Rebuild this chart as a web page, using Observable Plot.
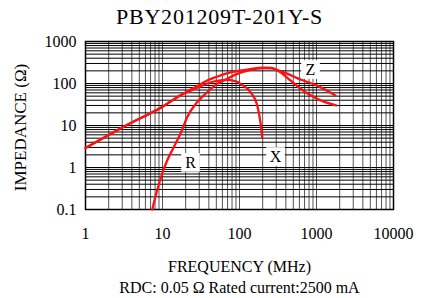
<!DOCTYPE html>
<html>
<head>
<meta charset="utf-8">
<script src="https://cdn.jsdelivr.net/npm/d3@7"></script>
<script src="https://cdn.jsdelivr.net/npm/@observablehq/plot@0.6"></script>
<style>
  html, body { margin: 0; padding: 0; background: #fff; }
  #wrap { position: relative; width: 429px; height: 298px; overflow: hidden; color: #000; }
  .t { position: absolute; width: 429px; text-align: center; white-space: nowrap; font-family: "Liberation Serif", "Times New Roman", serif; }
  #title { top: 6px; font-size: 22px; line-height: 22px; letter-spacing: 0.8px; left: 5px; }
  #xlab { top: 259px; font-size: 16px; line-height: 16px; left: 25px; }
  #cap { top: 280px; font-size: 16px; line-height: 16px; left: 25px; }
  #chart { position: absolute; left: 0; top: 0; }
</style>
</head>
<body>
<div id="wrap">
  <div id="chart"></div>
  <div class="t" id="title">PBY201209T-201Y-S</div>
  <div class="t" id="xlab">FREQUENCY (MHz)</div>
  <div class="t" id="cap">RDC: 0.05 Ω Rated current:2500 mA</div>
</div>
<script>
// Tick labels
const xTicks = [1, 10, 100, 1000, 10000];
const yTicks = [0.1, 1, 10, 100, 1000];
const yLabel = "IMPEDANCE (Ω)";

// Z curve (impedance magnitude)
const zFreq = [1, 3.5, 10, 17, 28, 38, 51, 76, 126, 207, 260, 310, 416, 561, 1000, 1766];
const zVal  = [2.9, 10.4, 28, 52, 86, 118, 145, 184, 215, 240, 235, 210, 172, 134, 90, 52];

// R curve (resistance)
const rFreq = [7.35, 8.5, 9.9, 11.5, 14, 17.1, 20.9, 28.2, 38.1, 51.3, 69.2, 93.4, 126, 200, 260, 339, 459, 620, 1021, 1800];
const rVal  = [0.1, 0.28, 0.71, 1.47, 3.04, 6.34, 15.8, 36, 62, 98, 129, 170, 200, 232, 228, 186, 118, 75, 43, 30];

// X curve (reactance)
const xFreq = [1, 3.5, 10, 17, 28, 38, 51, 69, 93, 103, 139, 170, 187, 197];
const xVal  = [2.9, 10.4, 28, 52, 78, 100, 115, 122, 110, 98, 62, 30, 12, 5.2];

// Curve labels
const labNames = ["R", "X", "Z"];
const labFreq  = [23.1, 294, 836];
const labVal   = [1.32, 1.83, 215];

const toRows = (fs, vs) => fs.map((f, i) => ({f, v: vs[i]}));
const zData = toRows(zFreq, zVal);
const rData = toRows(rFreq, rVal);
const xData = toRows(xFreq, xVal);
const labels = labNames.map((n, i) => ({n, f: labFreq[i], v: labVal[i]}));

const xGrid = d3.scaleLog().domain([1, 10000]).ticks();
const yGrid = d3.scaleLog().domain([0.1, 1000]).ticks();

const red = "#ff1010";
const lineOpts = {x: "f", y: "v", stroke: red, strokeWidth: 2.3, curve: "monotone-x"};

const chart = Plot.plot({
  width: 429,
  height: 298,
  marginLeft: 85,
  marginRight: 36,
  marginTop: 41,
  marginBottom: 89,
  style: {fontFamily: "'Liberation Serif', 'Times New Roman', serif", fontSize: "16px", color: "#000", background: "transparent"},
  x: {type: "log", domain: [1, 10000], ticks: xTicks, tickFormat: d => String(d), tickSize: 0, tickPadding: 18, label: null},
  y: {type: "log", domain: [0.1, 1000], ticks: yTicks, tickFormat: d => String(d), tickSize: 0, tickPadding: 9, label: null},
  marks: [
    Plot.ruleX(xGrid, {stroke: "#555", strokeWidth: 1}),
    Plot.ruleY(yGrid, {stroke: "#000", strokeWidth: 1}),
    Plot.frame({stroke: "#000", strokeWidth: 1.5}),
    Plot.line(zData, lineOpts),
    Plot.line(rData, lineOpts),
    Plot.line(xData, lineOpts),
    Plot.dot(labels, {x: "f", y: "v", symbol: "square", r: 10.5, fill: "white", stroke: "none"}),
    Plot.text(labels, {x: "f", y: "v", text: "n", fontSize: 16, fill: "#000"}),
    Plot.text([yLabel], {frameAnchor: "left", textAnchor: "middle", rotate: -90, dx: -65, dy: 2, fontSize: 17, fill: "#000"})
  ]
});
document.getElementById("chart").appendChild(chart);
</script>
</body>
</html>
